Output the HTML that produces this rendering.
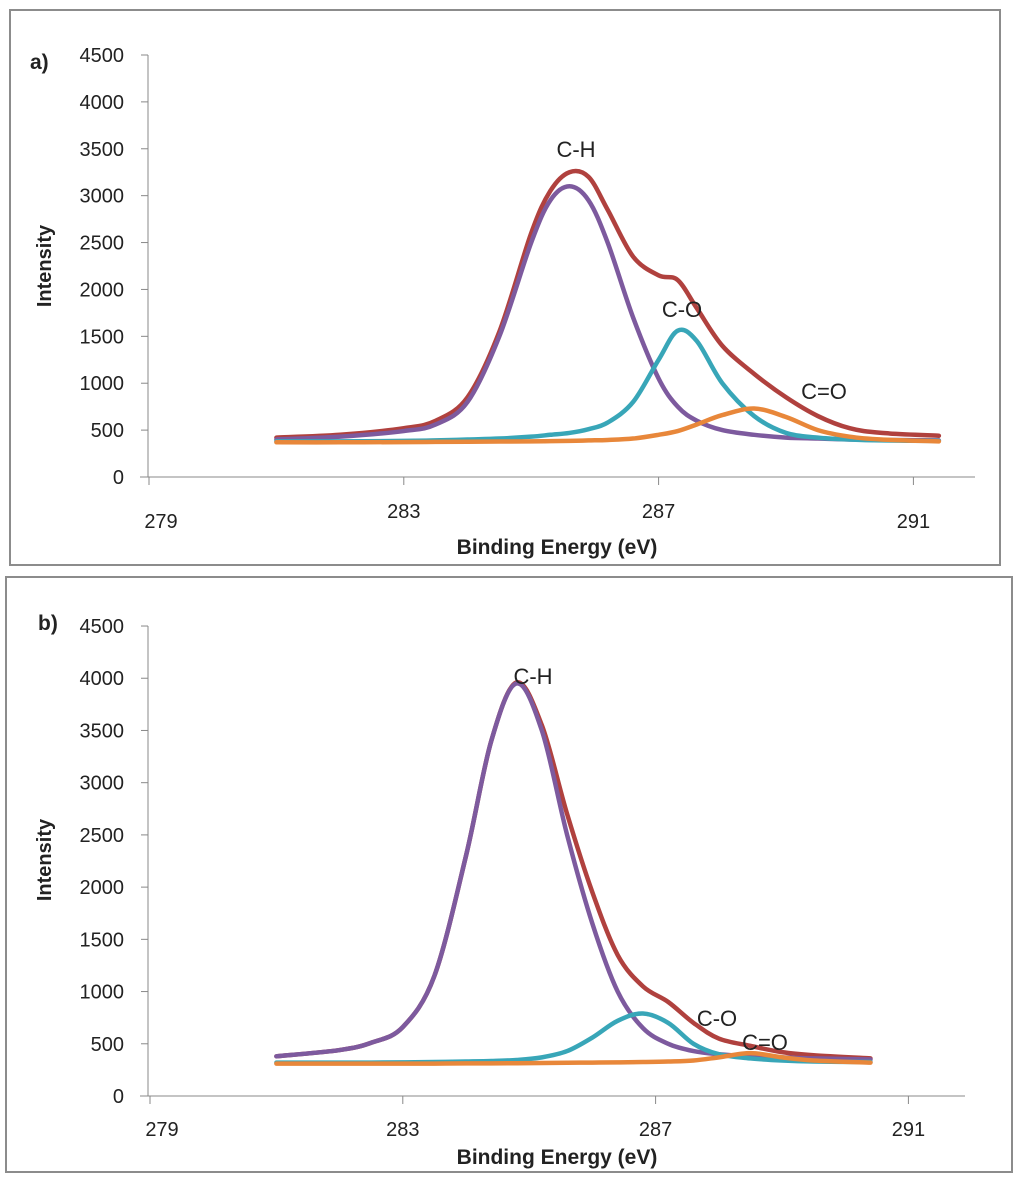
<!DOCTYPE html>
<html><head><meta charset="utf-8"><style>
html,body{margin:0;padding:0;background:#fff;}
svg{display:block;font-family:"Liberation Sans",sans-serif;}
</style></head><body>
<svg id="chart" width="1024" height="1184"></svg>
<script>
const energiesA=[281,282,283,283.5,284,284.5,285,285.3,285.6,285.9,286.2,286.6,287,287.3,287.6,288,288.5,289,289.5,290,290.5,291.4];
const chA=[400,430,490,560,800,1500,2500,2950,3100,2950,2500,1700,1050,750,600,500,450,420,410,400,395,390];
const coA=[380,380,385,390,400,410,430,450,470,510,580,800,1250,1560,1450,1000,650,470,420,400,390,385];
const c2oA=[370,370,372,374,376,378,380,382,385,390,395,410,450,490,560,660,730,640,500,430,400,380];
const envA=[420,450,520,600,850,1550,2600,3050,3250,3200,2850,2350,2150,2100,1800,1400,1100,850,650,520,470,440];
const energiesB=[281,282,282.5,283,283.5,284,284.4,284.8,285.2,285.6,286,286.4,286.8,287.2,287.6,288,288.5,289,289.5,290.4];
const chB=[380,440,510,660,1150,2300,3400,3950,3500,2500,1650,1000,650,500,430,400,380,370,360,350];
const coB=[320,320,320,322,325,330,335,345,370,430,560,720,790,700,500,400,360,340,330,325];
const c2oB=[310,310,310,310,310,312,312,314,316,318,320,322,325,330,340,370,410,370,340,320];
const envB=[380,440,510,660,1150,2300,3400,3960,3550,2700,1950,1350,1050,900,700,550,480,420,390,360];
const yTicks=[0,500,1000,1500,2000,2500,3000,3500,4000,4500];
const xTicks=[279,283,287,291];
const NS='http://www.w3.org/2000/svg';
const svg=document.getElementById('chart');
function el(t,a,p){const e=document.createElementNS(NS,t);for(const k in a)e.setAttribute(k,a[k]);(p||svg).appendChild(e);return e;}
function smooth(pts){let d='M'+pts[0][0]+','+pts[0][1];for(let i=0;i<pts.length-1;i++){const p0=pts[i-1]||pts[i],p1=pts[i],p2=pts[i+1],p3=pts[i+2]||p2;
const c1x=p1[0]+(p2[0]-p0[0])/6,c1y=p1[1]+(p2[1]-p0[1])/6,c2x=p2[0]-(p3[0]-p1[0])/6,c2y=p2[1]-(p3[1]-p1[1])/6;
d+=' C'+c1x+','+c1y+' '+c2x+','+c2y+' '+p2[0]+','+p2[1];}return d;}
function panel(cfg){
 const g=el('g',{});
 
 
 const fr=el('rect',{x:cfg.box[0],y:cfg.box[1],width:cfg.box[2],height:cfg.box[3],fill:'none',stroke:'#8c8c8c','stroke-width':2},g);
 
 
 const X=e=>cfg.x0+(e-279)*cfg.xs, Y=v=>cfg.y0-v*cfg.ys;
 const ya=el('line',{x1:148,y1:Y(4500),x2:148,y2:Y(0),stroke:'#888','stroke-width':1},g);
 
 
 const xa=el('line',{x1:140,y1:Y(0),x2:cfg.xEnd,y2:Y(0),stroke:'#888','stroke-width':1},g);
 
 
 yTicks.forEach(v=>{
  el('line',{x1:141,y1:Y(v),x2:148,y2:Y(v),stroke:'#888'},g);
  const t=el('text',{x:124,y:Y(v)+7,'text-anchor':'end','font-size':20,fill:'#222'},g);
  t.textContent=v;
  
  
 });
 xTicks.forEach((v,i)=>{
  el('line',{x1:X(v),y1:Y(0),x2:X(v),y2:Y(0)+8,stroke:'#888'},g);
  const t=el('text',{x:X(v)+(i==0?12:0),y:cfg.xLabY[i],'text-anchor':'middle','font-size':20,fill:'#222'},g);
  t.textContent=v;
  
  
 });
 const series=[[cfg.env,'#b0413e','envelope-line'],[cfg.ch,'#7d5a9e','c-h-line'],[cfg.co,'#38a6b8','c-o-line'],[cfg.c2o,'#e8873a','c-eq-o-line']];
 series.forEach(s=>{
  const p=el('path',{d:smooth(cfg.e.map((e,i)=>[X(e),Y(s[0][i])])),fill:'none',stroke:s[1],'stroke-width':4.5,'stroke-linejoin':'round','stroke-linecap':'round'},g);
  
  
 });
 cfg.labels.forEach(l=>{
  const t=el('text',{x:l[1],y:l[2],'text-anchor':'middle','font-size':22,fill:'#222'},g);
  t.textContent=l[0];
  
  
 });
 const yt=el('text',{x:0,y:0,transform:'translate(51,'+cfg.yTitleY+') rotate(-90)','text-anchor':'middle','font-size':20,'font-weight':'bold',fill:'#222'},g);
 yt.textContent='Intensity';
 
 
 const xt=el('text',{x:557,y:cfg.xTitleY,'text-anchor':'middle','font-size':21,'font-weight':'bold',fill:'#222'},g);
 xt.textContent='Binding Energy (eV)';
 
 
 const pl=el('text',{x:cfg.tag[1],y:cfg.tag[2],'font-size':21,'font-weight':'bold',fill:'#222'},g);
 pl.textContent=cfg.tag[0];
 
 
}
panel({name:'panel-a',box:[10,10,990,555],x0:149,xs:63.7,y0:477,ys:0.09378,xEnd:975,xLabY:[528,518,518,528],
 e:energiesA,ch:chA,co:coA,c2o:c2oA,env:envA,
 labels:[['C-H',576,157],['C-O',682,317],['C=O',824,399]],yTitleY:266,xTitleY:554,tag:['a)',30,69]});
panel({name:'panel-b',box:[6,577,1006,595],x0:150,xs:63.2,y0:1096,ys:0.10444,xEnd:965,xLabY:[1136,1136,1136,1136],
 e:energiesB,ch:chB,co:coB,c2o:c2oB,env:envB,
 labels:[['C-H',533,684],['C-O',717,1026],['C=O',765,1050]],yTitleY:860,xTitleY:1164,tag:['b)',38,630]});
</script>
</body></html>
